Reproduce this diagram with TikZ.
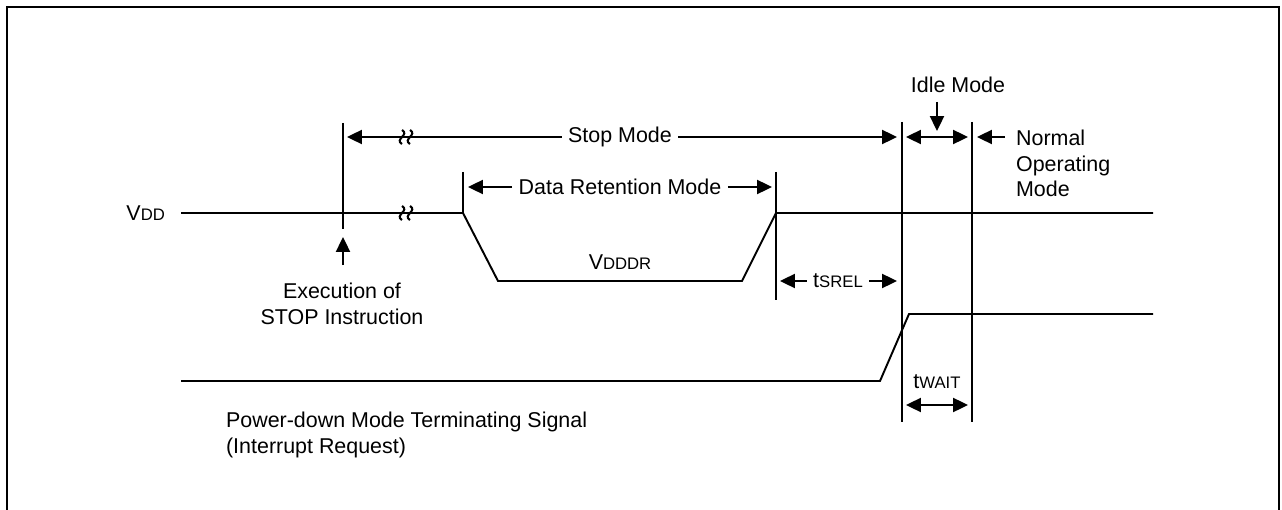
\documentclass[tikz,border=0pt]{standalone}
\usepackage{fontspec}
\setmainfont{Liberation Sans}
\usetikzlibrary{arrows.meta}
\tikzstyle{sig} = [draw, line width=1.1pt]
\tikzstyle{guide} = [draw, line width=1.1pt]
\tikzstyle{dimline} = [draw, line width=1.1pt, ->]
\tikzstyle{txt} = [inner sep=1pt, font=\fontsize{12.2}{14.5}\selectfont]
\tikzstyle{dimtxt} = [txt, inner sep=3.5pt]
\newcommand{\sm}[1]{{\fontsize{9.5}{11}\selectfont #1}}
\newcommand{\brkmark}[2]{%
  \begin{scope}[shift={(#1,#2)}]
    \foreach \dx in {-4,4}
      \draw[line width=1.2pt] (\dx,-7) .. controls (\dx+8,-2) and (\dx-8,2) .. (\dx,7);
  \end{scope}}

\begin{document}
\begin{tikzpicture}[x=0.02cm,y=-0.02cm,>={Triangle[length=8.5pt,width=8pt]}]
\useasboundingbox (0,0) rectangle (1282,510);

% frame
\draw[line width=1.4pt] (7,510) -- (7,7) -- (1279,7) -- (1279,510);

% time markers
\coordinate (exTop) at (343,123);  \coordinate (exBot) at (343,229);
\coordinate (drLTop) at (463,172); \coordinate (drLBot) at (463,213);
\coordinate (drRTop) at (776,172); \coordinate (drRBot) at (776,300);
\coordinate (wLTop) at (902,122);  \coordinate (wLBot) at (902,422);
\coordinate (wRTop) at (972,122);  \coordinate (wRBot) at (972,422);
\path[guide] (exTop) -- (exBot);
\path[guide] (drLTop) -- (drLBot);
\path[guide] (drRTop) -- (drRBot);
\path[guide] (wLTop) -- (wLBot);
\path[guide] (wRTop) -- (wRBot);

% supply and terminating signal
\node (vdd) [txt, anchor=east] at (167,213) {V\sm{DD}};
\path[sig] (181,213) -- (463,213) -- (498,281) -- (742,281) -- (776,213) -- (1153,213);
\brkmark{406}{213}
\node (vdddr) [txt] at (620,262) {V\sm{DDDR}};
\path[sig] (181,381) -- (880,381) -- (909,314) -- (1153,314);

% stop mode
\node (stop) [dimtxt] at (620,137) {Stop Mode};
\path[dimline] (stop.west) -- (347,137);
\path[dimline] (stop.east) -- (897,137);
\brkmark{406}{137}

% data retention mode
\node (dret) [dimtxt] at (620,187) {Data Retention Mode};
\path[dimline] (dret.west) -- (468,187);
\path[dimline] (dret.east) -- (772,187);

% execution of STOP
\node (exec) [txt, align=center] at (342,304) {Execution of\\STOP Instruction};
\coordinate (execTail) at (343,265);
\path[dimline] (execTail) -- (343,237);

% idle and normal mode
\node (idle) [txt] at (958,85) {Idle Mode};
\path[dimline] (937,102) -- (937,131);
\path[draw, line width=1.1pt, <->] (906,137) -- (968,137);
\node (norm) [txt, align=left, anchor=north west] at (1014,128) {Normal\\Operating\\Mode};
\path[dimline] (1005,137) -- (977,137);

% tSREL
\node (tsrel) [dimtxt] at (838,281) {t\sm{SREL}};
\path[dimline] (tsrel.west) -- (780,281);
\path[dimline] (tsrel.east) -- (897,281);

% tWAIT
\node (twait) [txt] at (937,382) {t\sm{WAIT}};
\path[draw, line width=1.1pt, <->] (906,405) -- (968,405);

% terminating signal label
\node (pdm) [txt, align=left, anchor=north west] at (224,410) {Power-down Mode Terminating Signal\\(Interrupt Request)};
\end{tikzpicture}
\end{document}
